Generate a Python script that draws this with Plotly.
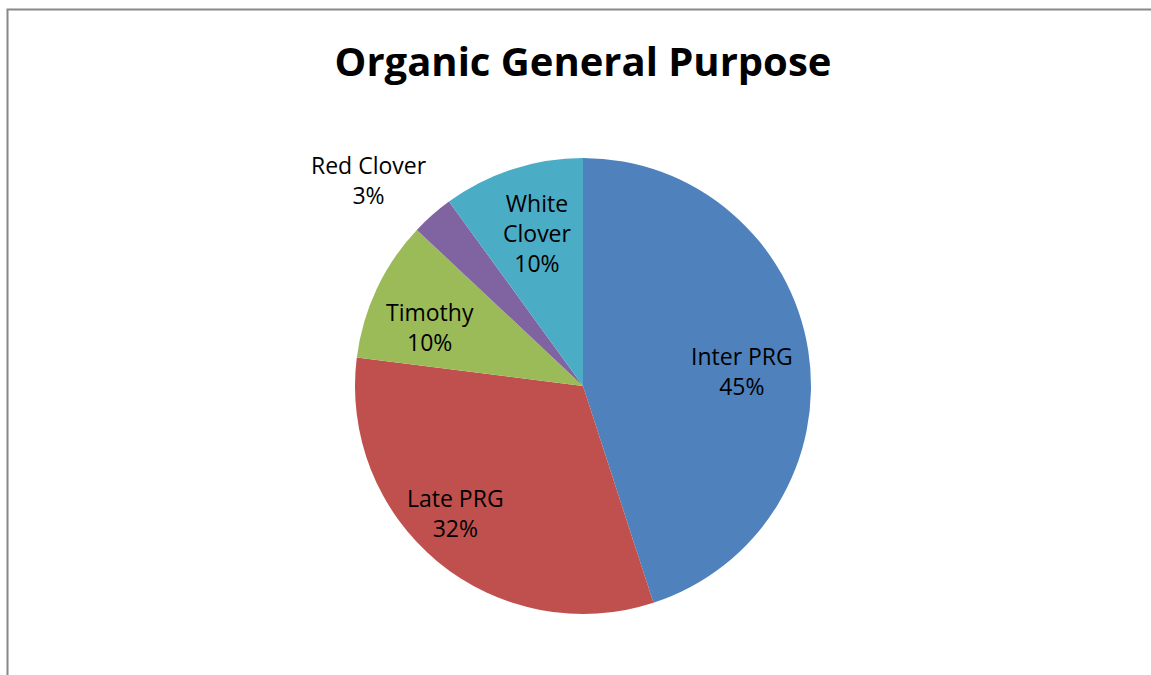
import math
import plotly.graph_objects as go

labels = ["Inter PRG", "Late PRG", "Timothy", "Red Clover", "White Clover"]
values = [45, 32, 10, 3, 10]
text_labels = ["Inter PRG", "Late PRG", "Timothy", "Red Clover", "White<br>Clover"]
colors = ["#4F81BD", "#C0504D", "#9BBB59", "#8064A2", "#4BACC6"]
# data label placement (style): radius as fraction of pie radius, angle nudge in degrees
label_radius = [0.70, 0.79, 0.72, 1.30, 0.70]
label_nudge = [3.6, 5.4, -4.0, -4.7, 1.3]

W, H = 1151, 675
cx, cy, r = 583, 386, 228
FONT = "Open Sans, Calibri, Carlito, sans-serif"

fig = go.Figure(go.Pie(
    labels=labels,
    values=values,
    textinfo="none",
    marker=dict(colors=colors, line=dict(width=0)),
    sort=False,
    direction="clockwise",
    rotation=0,
    domain=dict(x=[(cx - r) / W, (cx + r) / W], y=[(H - cy - r) / H, (H - cy + r) / H]),
    showlegend=False,
    hoverinfo="label+percent",
))

# data labels placed around the middle angle of each slice
total = sum(values)
annotations = []
cum = 0
for lab, v, f, nd in zip(text_labels, values, label_radius, label_nudge):
    mid = (cum + v / 2) / total * 2 * math.pi + math.radians(nd)
    cum += v
    px = cx + f * r * math.sin(mid)
    py = cy - f * r * math.cos(mid)
    annotations.append(dict(
        x=px / W, y=1 - py / H, xref="paper", yref="paper",
        text=f"{lab}<br>{round(v / total * 100)}%",
        showarrow=False, xanchor="center", yanchor="middle", align="center",
        font=dict(family=FONT, size=23, color="#000000"),
    ))

fig.update_layout(
    width=W, height=H,
    margin=dict(l=0, r=0, t=0, b=0),
    paper_bgcolor="white",
    title=dict(
        text="<b>Organic General Purpose</b>",
        x=583 / W, xanchor="center",
        y=1 - 62 / H, yanchor="middle",
        font=dict(family=FONT, size=40, color="#000000"),
    ),
    annotations=annotations,
    shapes=[dict(
        type="rect", xref="paper", yref="paper",
        x0=7.5 / W, x1=1.02, y0=-0.02, y1=1 - 9.5 / H,
        line=dict(color="#888888", width=2),
        fillcolor="rgba(0,0,0,0)",
        layer="below",
    )],
)

fig.write_html(
    "out.html",
    config={"displayModeBar": False},
    post_script="document.body.style.margin='0';document.body.style.overflow='hidden';",
)
